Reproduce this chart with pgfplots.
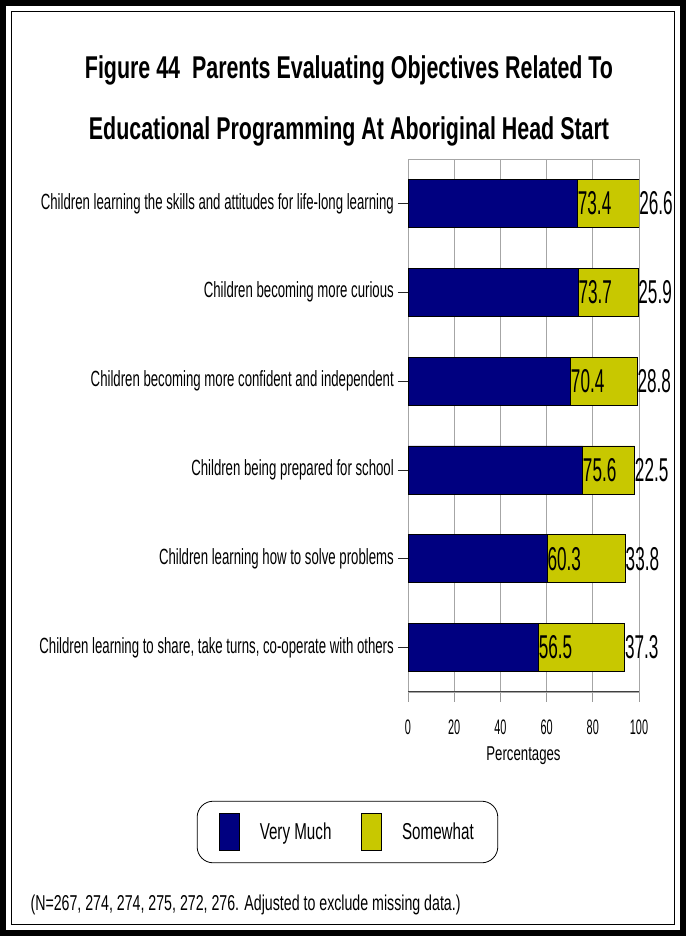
\documentclass[border=0pt]{standalone}
\usepackage{fontspec}
\setmainfont{Liberation Sans}[FakeStretch=0.6]
\newfontfamily\titlefont{Liberation Sans}[FakeStretch=0.68]
\newfontfamily\numfont{Liberation Sans}[FakeStretch=0.52]
\newfontfamily\labfont{Liberation Sans}[FakeStretch=0.66]
\usepackage{pgfplots}
\pgfplotsset{compat=1.18}
\usepackage{pgfplotstable}
\definecolor{navybar}{RGB}{0,0,128}
\definecolor{yelbar}{RGB}{200,200,0}

\pgfplotstableread{
cat vm sw
6 73.4 26.6
5 73.7 25.9
4 70.4 28.8
3 75.6 22.5
2 60.3 33.8
1 56.5 37.3
}\datatable

\begin{document}
\begin{tikzpicture}
\useasboundingbox (0pt,0pt) rectangle (686pt,936pt);
\fill[white] (0pt,0pt) rectangle (686pt,936pt);
\draw[line width=6pt] (3pt,3pt) rectangle (683pt,933pt);
\draw[line width=1.5pt] (11.5pt,11.5pt) rectangle (674.5pt,924.5pt);
\node[font=\titlefont\bfseries\fontsize{31.5}{34}\selectfont] at (349pt,866pt) {Figure 44\ \ Parents Evaluating Objectives Related To};
\node[font=\titlefont\bfseries\fontsize{31.5}{34}\selectfont] at (349pt,805pt) {Educational Programming At Aboriginal Head Start};
\node[anchor=west, font=\labfont\fontsize{21.5}{23}\selectfont] at (27pt,31pt) {(N=267, 274, 274, 275, 272, 276. Adjusted to exclude missing data.)};
\begin{axis}[
  at={(408pt,244pt)}, anchor=south west,
  width=231pt, height=533pt, scale only axis,
  xbar stacked, bar width=48pt,
  xmin=0, xmax=100, ymin=0.5, ymax=6.5,
  xtick={0,20,...,100}, ytick={1,...,6},
  yticklabels={{Children learning to share, take turns, co-operate with others},
    {Children learning how to solve problems},
    {Children being prepared for school},
    {Children becoming more confident and independent},
    {Children becoming more curious},
    {Children learning the skills and attitudes for life-long learning}},
  yticklabel style={font=\fontsize{22}{24}\selectfont, inner xsep=4pt},
  xticklabel style={font=\numfont\fontsize{21}{23}\selectfont, yshift=-14pt},
  /pgf/number format/assume math mode=true,
  xmajorgrids, major grid style={gray!70, line width=0.8pt},
  axis line style={gray!70, line width=0.8pt},
  tick align=outside, xtick pos=bottom, ytick pos=left, major tick length=10pt,
  xtick style={gray!80, line width=0.8pt},
  ytick style={black!85, line width=0.7pt},
  xlabel={Percentages},
  xlabel style={font=\labfont\fontsize{20}{22}\selectfont, at={(axis description cs:0.5,-0.12)}, anchor=center},
  point meta=explicit,
  visualization depends on={rawx \as \segval},
  nodes near coords={\pgfmathprintnumber[fixed,fixed zerofill,precision=1]{\pgfplotspointmeta}},
  every node near coord/.append style={font=\numfont\fontsize{33}{34}\selectfont, anchor=west, inner xsep=0pt, black, xshift=\segval*1.155pt},
  legend columns=2,
  legend cell align=left,
  legend style={at={(-0.262,-0.2627)}, anchor=center, draw=black, line width=0.8pt, rounded corners=16pt,
    inner xsep=22pt, inner ysep=12pt, font=\labfont\fontsize{23}{25}\selectfont,
    /tikz/every odd column/.append style={column sep=18pt},
    /tikz/every even column/.append style={column sep=28pt}},
]
\addplot[fill=navybar, draw=black, line width=0.7pt,
  legend image code/.code={\draw[sharp corners, fill=navybar, draw=black, line width=0.6pt] (0pt,-18.5pt) rectangle (20pt,18.5pt);}]
  table[x=vm, y=cat, meta=vm] {\datatable};
\addplot[fill=yelbar, draw=black, line width=0.7pt,
  legend image code/.code={\draw[sharp corners, fill=yelbar, draw=black, line width=0.6pt] (0pt,-18.5pt) rectangle (20pt,18.5pt);}]
  table[x=sw, y=cat, meta=sw] {\datatable};
\legend{Very Much, Somewhat}
\draw[black!75, line width=1pt] (axis cs:0,0.5) -- (axis cs:100,0.5);
\end{axis}
\end{tikzpicture}
\end{document}
